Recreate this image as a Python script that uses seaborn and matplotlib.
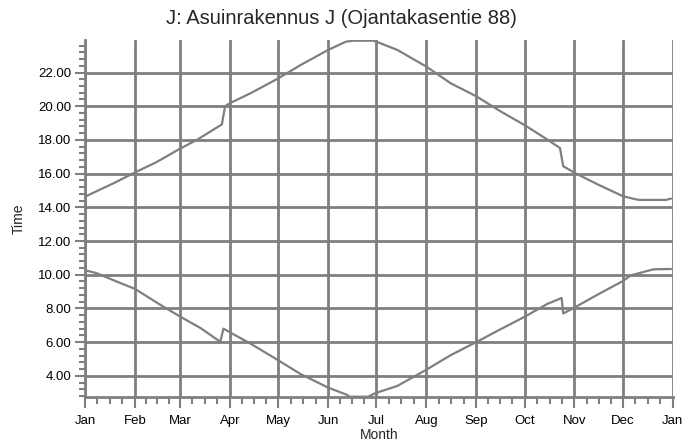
import matplotlib
matplotlib.use("Agg")
import matplotlib.pyplot as plt
from matplotlib.ticker import FixedLocator, MultipleLocator, FormatStrFormatter
import pandas as pd
import seaborn as sns

# Month axis: start day of each month (day of year) and its label
month_starts = [0, 31, 59, 90, 120, 151, 181, 212, 243, 273, 304, 334, 365]
month_labels = ["Jan", "Feb", "Mar", "Apr", "May", "Jun", "Jul",
                "Aug", "Sep", "Oct", "Nov", "Dec", "Jan"]

# Sunset (upper curve): day of year -> clock time in hours
sunset_day = [0, 8, 18, 31, 44, 59, 70, 85, 87, 90, 103, 120, 134, 151,
              162, 167, 179, 181, 194, 212, 227, 243, 258, 273, 287, 295,
              297, 304, 318, 334, 341, 344, 361, 364]
sunset_time = [14.63, 14.99, 15.44, 16.07, 16.66, 17.48, 18.03, 18.92, 20.00,
               20.18, 20.78, 21.65, 22.45, 23.34, 23.83, 23.89, 23.89, 23.83,
               23.34, 22.35, 21.37, 20.59, 19.70, 18.88, 18.03, 17.52, 16.44,
               16.05, 15.38, 14.66, 14.50, 14.44, 14.44, 14.52]

# Sunrise (lower curve)
sunrise_day = [0, 7, 18, 31, 46, 59, 72, 84, 86, 90, 103, 120, 134, 151,
               163, 164, 176, 180, 194, 212, 227, 243, 258, 273, 287, 296,
               297, 304, 318, 334, 339, 353, 364]
sunrise_time = [10.26, 10.10, 9.66, 9.16, 8.26, 7.52, 6.82, 6.02, 6.80, 6.58,
                5.90, 4.92, 4.10, 3.30, 2.86, 2.76, 2.76, 2.96, 3.40, 4.36,
                5.22, 6.00, 6.76, 7.50, 8.26, 8.62, 7.70, 8.05, 8.80, 9.62,
                9.96, 10.32, 10.34]

df = pd.concat([
    pd.DataFrame({"day": sunset_day, "time": sunset_time, "series": "sunset"}),
    pd.DataFrame({"day": sunrise_day, "time": sunrise_time, "series": "sunrise"}),
], ignore_index=True)

sns.set_style("white")
plt.rcParams["font.family"] = ["Liberation Sans", "DejaVu Sans"]

GRAY = "#7f7f7f"

fig = plt.figure(figsize=(6.99, 4.44), dpi=100)
ax = fig.add_axes([85 / 699, 1 - 396.7 / 444, 587.7 / 699, 356.7 / 444])

sns.lineplot(data=df, x="day", y="time", hue="series",
             palette=[GRAY, GRAY], estimator=None, sort=False,
             linewidth=1.6, legend=False, ax=ax)

ax.set_xlim(month_starts[0], month_starts[-1])
ax.set_ylim(min(sunrise_time), max(sunset_time) + 0.04)

# x ticks: months, with quarter-month minor ticks
ax.xaxis.set_major_locator(FixedLocator(month_starts))
ax.set_xticklabels(month_labels)
quarters = []
for a, b in zip(month_starts[:-1], month_starts[1:]):
    quarters += [a + (b - a) * k / 4 for k in (1, 2, 3)]
ax.xaxis.set_minor_locator(FixedLocator(quarters))

# y ticks: every 2 hours, minor every 0.4
ax.yaxis.set_major_locator(MultipleLocator(2))
ax.yaxis.set_minor_locator(MultipleLocator(0.4))
ax.yaxis.set_major_formatter(FormatStrFormatter("%.2f"))

ax.grid(True, which="major", color=GRAY, linewidth=2)
ax.set_axisbelow(True)

for side in ("top", "right"):
    ax.spines[side].set_visible(False)
for side in ("left", "bottom"):
    ax.spines[side].set_color(GRAY)
    ax.spines[side].set_linewidth(2)

ax.tick_params(which="major", direction="out", length=7, width=1.5,
               color=GRAY, labelsize=9.5, labelcolor="black", pad=3)
ax.tick_params(which="minor", direction="out", length=4, width=1.5,
               color=GRAY)
ax.tick_params(axis="x", which="major", length=8, pad=5)
ax.tick_params(axis="x", which="minor", length=5)
ax.tick_params(left=True, bottom=True)
ax.tick_params(which="minor", left=True, bottom=True)

ax.set_xlabel("Month", fontsize=10, labelpad=1)
ax.set_ylabel("Time", fontsize=10, labelpad=9)

fig.text(0.488, 1 - 19 / 444, "J: Asuinrakennus J (Ojantakasentie 88)",
         ha="center", va="center", fontsize=14.5)

fig.savefig("out.png", dpi=100)
